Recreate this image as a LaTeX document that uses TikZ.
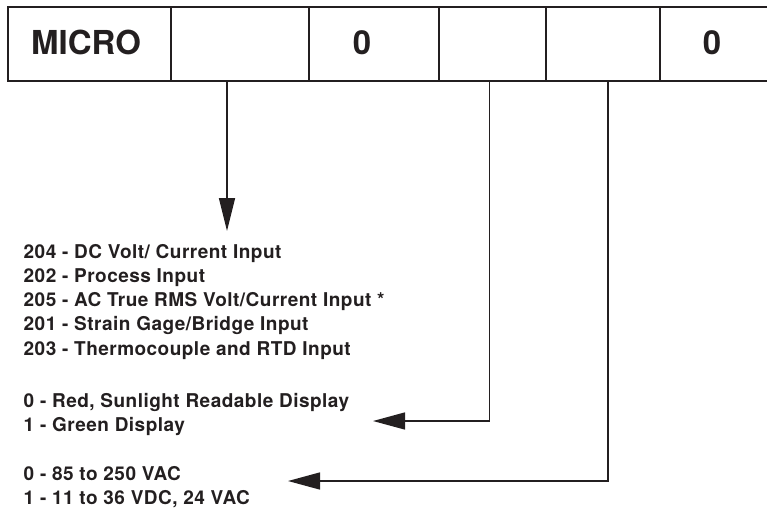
\documentclass[tikz,border=0pt]{standalone}
\usepackage{fontspec}
\setmainfont{TeX Gyre Heros}
\newfontfamily\listfont[LetterSpace=2.5]{TeX Gyre Heros}
\usetikzlibrary{arrows.meta}
\definecolor{ink}{HTML}{231F20}

\begin{document}
\begin{tikzpicture}[x=1pt, y=-1pt, line width=1.4pt, draw=ink, text=ink,
    cell/.style={draw, minimum height=74pt, inner sep=0pt},
    code/.style={font=\fontsize{33}{33}\selectfont\bfseries, anchor=base, inner sep=0pt},
    option/.style={font=\listfont\fontsize{19}{24}\selectfont\bfseries, anchor=base west, inner sep=0pt},
    pointer/.style={-{Triangle[length=33pt, width=16pt]}}]
  \useasboundingbox (0,0) rectangle (767,511);

  % Define the cells of the order code
  \foreach \name/\xa/\xb in {c1/8/171, c2/171/309, c3/309/439, c4/439/546, c5/546/660, c6/660/768}
    \node[cell, minimum width={(\xb-\xa)*1pt}] (\name) at ({(\xa+\xb)/2},44) {};

  % Fixed parts of the code
  \node[code] (micro) at (86,54) {MICRO};
  \node[code] (zero1) at (362,54) {0};
  \node[code] (zero2) at (712,54) {0};

  % Option lists
  \foreach \txt [count=\i] in {204 - DC Volt/ Current Input, 202 - Process Input,
      205 - AC True RMS Volt/Current Input *, 201 - Strain Gage/Bridge Input,
      203 - Thermocouple and RTD Input}
    \node[option] (in\i) at (23,{258+(\i-1)*24.3}) {\txt};
  \node[option] (disp1) at (23,407) {0 - Red, Sunlight Readable Display};
  \node[option] (disp2) at (23,431) {1 - Green Display};
  \node[option] (pow1) at (23,480) {0 - 85 to 250 VAC};
  \node[option] (pow2) at (23,504) {1 - 11 to 36 VDC, 24 VAC};

  % Arrow ends
  \coordinate (a1) at (227,231);
  \coordinate (a2) at (373,421);
  \coordinate (a3) at (288,481);

  % Draw the pointers from the cells to the lists
  \draw[pointer] (a1 |- c2.south) -- (a1);
  \draw[pointer, -{Triangle[length=32pt, width=17pt]}] ([xshift=-3pt]c4.south) |- (a2);
  \draw[pointer, -{Triangle[length=32pt, width=17pt]}] ([xshift=5pt]c5.south) |- (a3);

\end{tikzpicture}
\end{document}
